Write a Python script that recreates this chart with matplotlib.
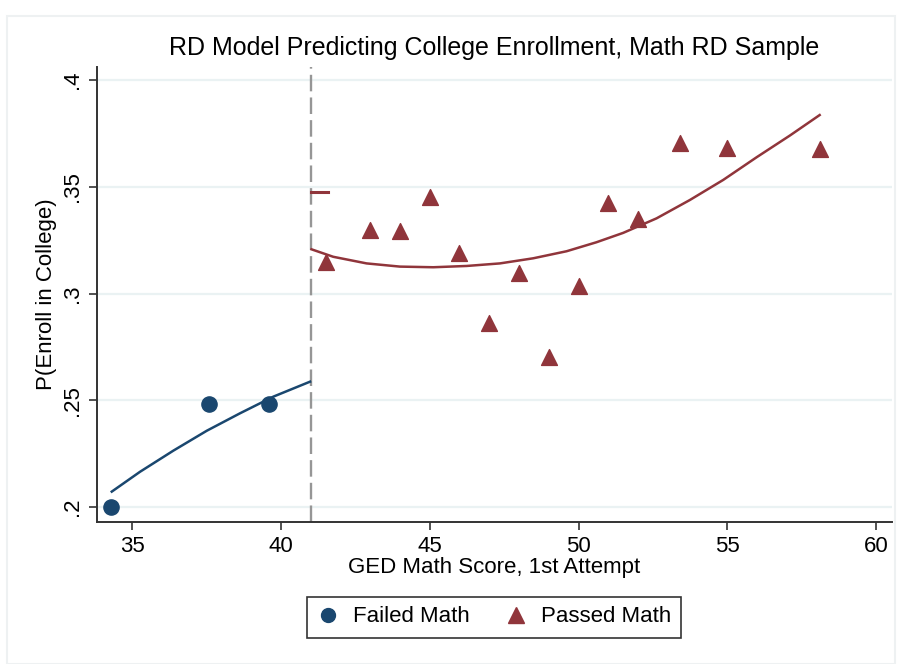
import numpy as np
import matplotlib
matplotlib.use("Agg")
import matplotlib.pyplot as plt
from matplotlib.patches import Rectangle
from matplotlib.lines import Line2D

plt.rcParams['font.family'] = ['Liberation Sans', 'DejaVu Sans']

# binned means
failed_x = [34.3, 37.6, 39.6]
failed_y = [0.2002, 0.2481, 0.2481]
passed_x = [41.5, 43, 44, 45, 46, 47, 48, 49, 50, 51, 52, 53.4, 55, 58.1]
passed_y = [0.3148, 0.3297, 0.3294, 0.3451, 0.3191, 0.2860, 0.3097, 0.2704,
            0.3035, 0.3426, 0.3348, 0.3705, 0.3682, 0.3677]

# fitted curves
fit_fail_x = [34.32, 35.27, 36.39, 37.51, 38.63, 39.75, 40.98]
fit_fail_y = [0.2072, 0.2165, 0.2264, 0.2357, 0.2439, 0.2517, 0.2587]
fit_pass_x = [41.03, 41.76, 42.88, 44.0, 45.12, 46.24, 47.36, 48.48, 49.6,
              50.6, 51.5, 52.62, 53.74, 54.86, 55.98, 57.1, 58.1]
fit_pass_y = [0.3207, 0.3172, 0.3141, 0.3126, 0.3123, 0.3129, 0.3141, 0.3165,
              0.3198, 0.3240, 0.3284, 0.3352, 0.3438, 0.3532, 0.3638, 0.3740,
              0.3836]
jump_x = [41.0, 41.58]
jump_y = [0.3475, 0.3475]

cutoff = 41
xticks = [35, 40, 45, 50, 55, 60]
yticks = [0.2, 0.25, 0.3, 0.35, 0.4]
ytick_labels = ['.2', '.25', '.3', '.35', '.4']

navy = '#1a476f'
maroon = '#90353b'

fig = plt.figure(figsize=(9.02, 6.64), dpi=100)
fig.patches.append(Rectangle((7 / 902, 0), 888 / 902, 1 - 16 / 664,
                             transform=fig.transFigure, fill=False,
                             edgecolor='#eef1f2', lw=1.5))
ax = fig.add_axes([97 / 902, 1 - 522 / 664, 795 / 902, 455 / 664])

for yv in yticks:
    ax.axhline(yv, color='#eaf2f3', lw=1.6, zorder=0)

ax.axvline(cutoff, color='#969696', lw=1.7, ls=(0, (7, 2.6)), zorder=1)

ax.plot(fit_fail_x, fit_fail_y, color=navy, lw=1.8, zorder=2)
ax.plot(fit_pass_x, fit_pass_y, color=maroon, lw=1.8, zorder=2)
ax.plot(jump_x, jump_y, color=maroon, lw=2.2, zorder=2)

ax.scatter(failed_x, failed_y, s=120, marker='o', color=navy, zorder=3)
ax.scatter(passed_x, passed_y, s=130, marker='^', color=maroon, zorder=3)

ax.set_xlim(33.824, 60.53)
ax.set_ylim(0.19297, 0.4061)
ax.set_xticks(xticks)
ax.set_yticks(yticks)
ax.set_yticklabels(ytick_labels, rotation=90, va='center')
ax.tick_params(axis='both', labelsize=16, length=6, width=1.2, color='#333333')
ax.tick_params(axis='x', pad=4)
ax.tick_params(axis='y', pad=4)

for s in ['top', 'right']:
    ax.spines[s].set_visible(False)
for s in ['left', 'bottom']:
    ax.spines[s].set_linewidth(1.4)
    ax.spines[s].set_color('#333333')

ax.set_xlabel('GED Math Score, 1st Attempt', fontsize=16, labelpad=0)
ax.set_ylabel('P(Enroll in College)', fontsize=16, labelpad=4)
fig.text(494 / 902, 1 - 48 / 664, 'RD Model Predicting College Enrollment, Math RD Sample',
         ha='center', va='center', fontsize=18)

handles = [Line2D([], [], marker='o', ls='', color=navy, markersize=10),
           Line2D([], [], marker='^', ls='', color=maroon, markersize=11)]
leg = fig.legend(handles, ['Failed Math', 'Passed Math'], loc='center',
                 bbox_to_anchor=(494 / 902, 1 - 617 / 664), ncol=2, fontsize=16,
                 frameon=True, fancybox=False, edgecolor='black',
                 handlelength=1.0, handletextpad=0.6, columnspacing=1.6,
                 borderpad=0.45, borderaxespad=0)
leg.get_frame().set_linewidth(1.2)

fig.savefig('out.png', dpi=100)
